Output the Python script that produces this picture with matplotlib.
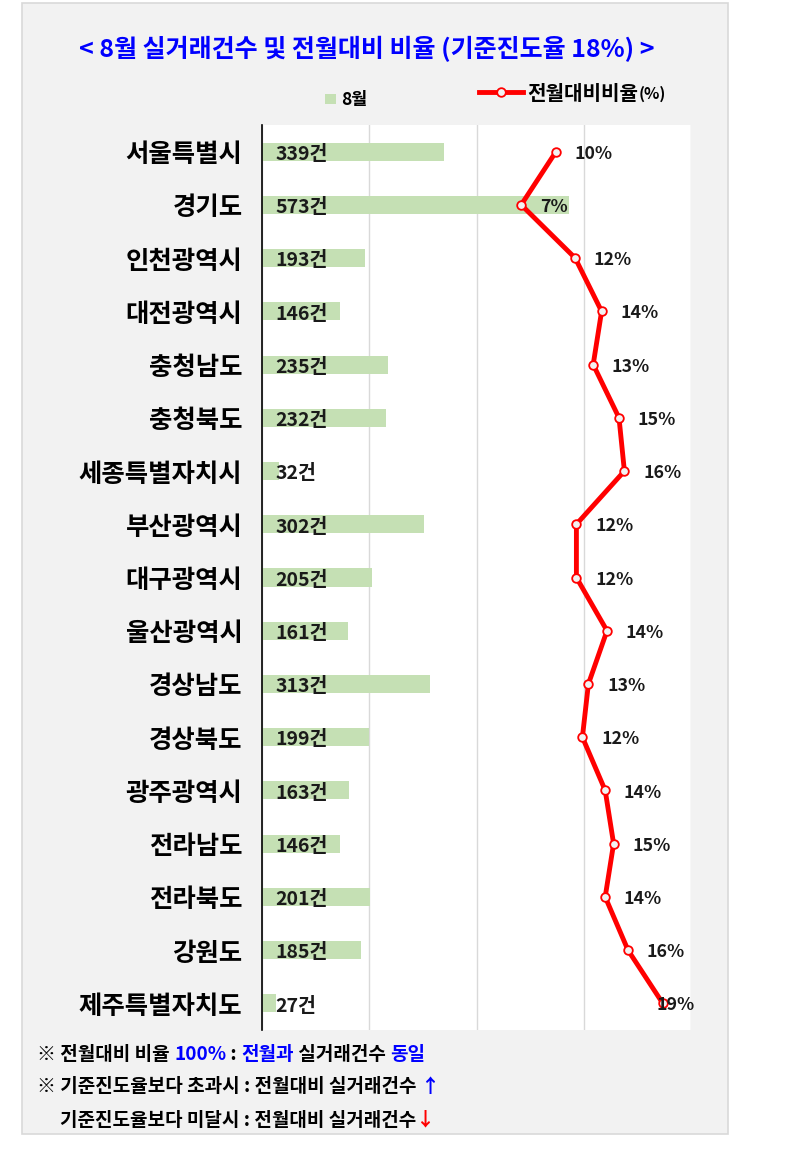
import matplotlib
matplotlib.use("Agg")
import matplotlib.pyplot as plt
from matplotlib.patches import Rectangle
import numpy as np

plt.rcParams['font.family'] = ['Noto Sans CJK KR', 'DejaVu Sans']

# data
regions = ["서울특별시", "경기도", "인천광역시", "대전광역시", "충청남도", "충청북도",
           "세종특별자치시", "부산광역시", "대구광역시", "울산광역시", "경상남도", "경상북도",
           "광주광역시", "전라남도", "전라북도", "강원도", "제주특별자치도"]
counts = [339, 573, 193, 146, 235, 232, 32, 302, 205, 161, 313, 199, 163, 146, 201, 185, 27]
ratios = [10.0, 7.1, 11.6, 13.8, 13.1, 15.25, 15.7, 11.7, 11.7, 14.25, 12.7, 12.2,
          14.1, 14.8, 14.1, 16.0, 18.9]

title = "< 8월 실거래건수 및 전월대비 비율 (기준진도율 18%) >"
BLUE = "#0000ff"
RED = "#ff0000"

W, H = 788, 1149
fig = plt.figure(figsize=(W / 100, H / 100), dpi=100)
fig.patch.set_facecolor("white")

# grey chart panel
fig.add_artist(Rectangle((22 / W, 1 - 1134 / H), (728 - 22) / W, (1134 - 3) / H,
                         transform=fig.transFigure, facecolor="#f2f2f2",
                         edgecolor="#d9d9d9", lw=1.2, zorder=0))

ax = fig.add_axes([262 / W, 1 - 1030 / H, (691 - 262) / W, (1030 - 125) / H])
ax.set_facecolor("white")
y = np.arange(len(regions))
bars = ax.barh(y, counts, height=0.34, color="#c5e0b4", zorder=2)
ax.set_ylim(len(regions) - 0.5, -0.5)
ax.set_xlim(0, 800)
ax.set_xticks(range(0, 801, 200))
ax.xaxis.grid(True, color="#d9d9d9", lw=1)
ax.set_axisbelow(True)
ax.tick_params(axis="x", length=0, labelbottom=False)
ax.set_yticks(y, regions, fontsize=18.3, fontweight="bold")
ax.tick_params(axis="y", length=0, pad=14)
for s in ["top", "right", "bottom"]:
    ax.spines[s].set_visible(False)
ax.spines["left"].set_color("black")
ax.spines["left"].set_linewidth(1.2)

# count labels at bar base
for yi, c in zip(y, counts):
    ax.annotate(f"{c}건", xy=(0, yi), xytext=(9.5, -2), textcoords="offset points",
                ha="left", va="center", fontsize=14, fontweight="bold", color="#1a1a1a",
                zorder=5)

# ratio line on secondary axis
ax2 = ax.twiny()
ax2.set_xlim(-14.5, 21.25)
ax2.axis("off")
line, = ax2.plot(ratios, y, color=RED, lw=3.5, marker="o", markersize=6.2,
                 markerfacecolor="#f2f2f2", markeredgecolor=RED, markeredgewidth=1.3,
                 zorder=4)
pct_labels = []
for yi, r in zip(y, ratios):
    t = ax2.annotate(f"{r:.0f}%", xy=(r, yi), xytext=(13.5, -1.5), textcoords="offset points",
                     ha="left", va="center", fontsize=12.8, fontweight="bold",
                     color="#1a1a1a", annotation_clip=False, zorder=6)
    pct_labels.append(t)

# title
fig.text(367 / W, 1 - 49 / H, title, ha="center", va="center", color=BLUE,
         fontsize=18, fontweight="bold")

# legends
fig.legend([bars], ["8월"], loc="center left", bbox_to_anchor=(325 / W, 1 - 100 / H),
           frameon=False, handlelength=0.64, handleheight=0.55, handletextpad=0.3,
           borderpad=0, borderaxespad=0, prop=dict(size=12.5, weight="bold"))
leg2 = fig.legend([line], ["전월대비비율"], loc="center left",
                  bbox_to_anchor=(479 / W, 1 - 93 / H), frameon=False,
                  handlelength=2.2, handletextpad=0.22, borderpad=0, borderaxespad=0,
                  prop=dict(size=14.5, weight="bold"))
ax.annotate("(%)", xy=(1, 0.08), xycoords=leg2.get_texts()[0], ha="left", va="bottom",
            fontsize=11.5, fontweight="bold", annotation_clip=False)


def rainbow(x_px, y_px, parts, size=13.7):
    s, c = parts[0]
    t = fig.text(x_px / W, 1 - y_px / H, s, color=c, fontsize=size,
                 fontweight="bold", va="center", ha="left")
    for s, c in parts[1:]:
        t = ax.annotate(s, xy=(1, 0), xycoords=t, va="bottom", ha="left", color=c,
                        fontsize=size, fontweight="bold", annotation_clip=False)


rainbow(37, 1054, [("※ 전월대비 비율 ", "black"), ("100%", BLUE), (" : ", "black"),
                   ("전월과", BLUE), (" 실거래건수 ", "black"), ("동일", BLUE)])
rainbow(37, 1087, [("※ 기준진도율보다 초과시 : 전월대비 실거래건수 ", "black"), ("↑", BLUE)])
rainbow(60, 1120, [("기준진도율보다 미달시 : 전월대비 실거래건수", "black"), ("↓", RED)])

# keep ratio labels inside the plot edge, as the spreadsheet does
fig.canvas.draw()
rend = fig.canvas.get_renderer()
right = ax.get_window_extent().x1
for t in pct_labels:
    bb = t.get_window_extent(rend)
    if bb.x1 > right + 4:
        dx = (bb.x1 - right - 4) * 72 / fig.dpi
        t.xyann = (t.xyann[0] - dx, t.xyann[1])

fig.savefig("out.png", dpi=100)
